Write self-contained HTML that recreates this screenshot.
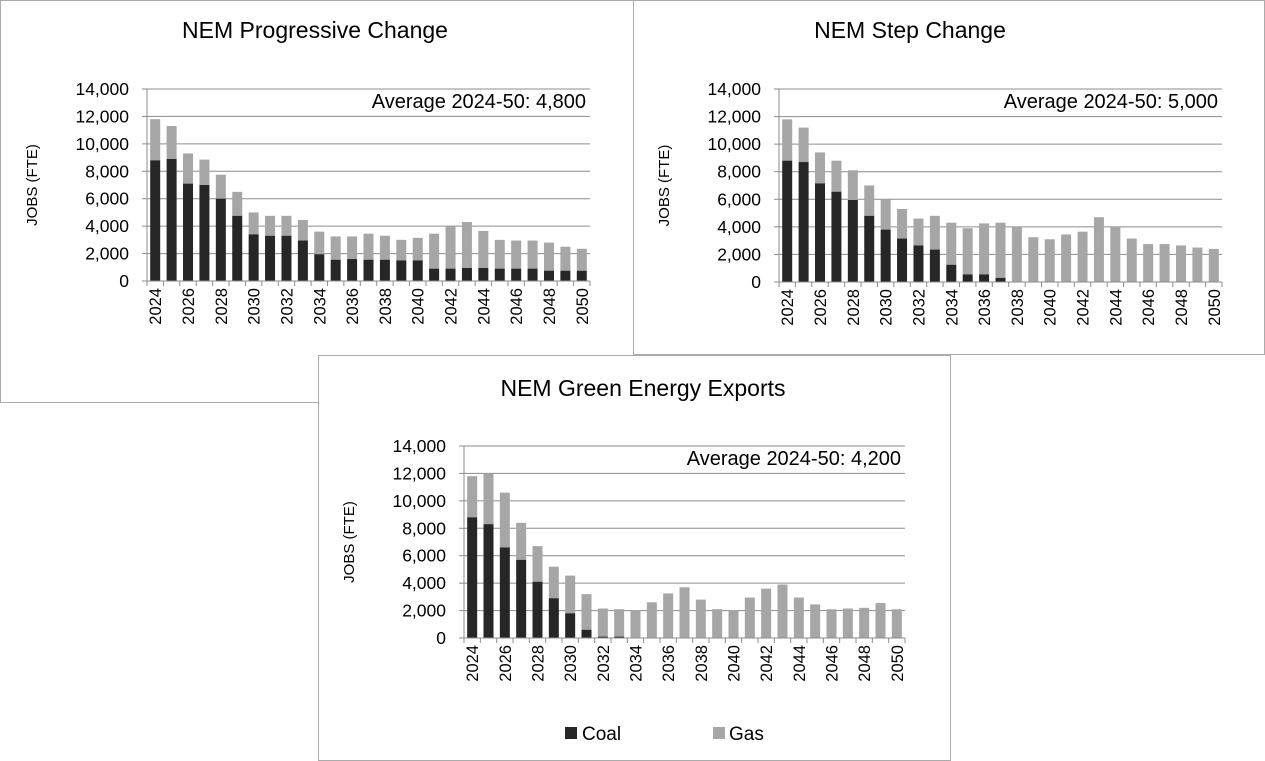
<!DOCTYPE html>
<html><head><meta charset="utf-8"><style>
body{margin:0;background:#fff;}
svg{display:block;font-family:"Liberation Sans",sans-serif;}
</style></head><body>
<svg id="chart" width="1265" height="761" viewBox="0 0 1265 761" xmlns="http://www.w3.org/2000/svg">
<rect x="0.5" y="0.5" width="633" height="402" fill="#fff" stroke="#aaa"/>
<rect x="633.5" y="0.5" width="631" height="354" fill="#fff" stroke="#aaa"/>
<rect x="318.5" y="355.5" width="632" height="405" fill="#fff" stroke="#aaa"/>
<g id="g1"></g><g id="g2"></g><g id="g3"></g>
<g>
<rect x="565" y="727" width="12" height="12" fill="#262626"/>
<text x="582" y="740" font-size="19" fill="#000">Coal</text>
<rect x="713" y="727" width="12" height="12" fill="#a6a6a6"/>
<text x="729" y="740" font-size="19" fill="#000">Gas</text>
</g>
</svg>
<script>
const years = [2024,2025,2026,2027,2028,2029,2030,2031,2032,2033,2034,2035,2036,2037,2038,2039,2040,2041,2042,2043,2044,2045,2046,2047,2048,2049,2050];
const yTicks = [0,2000,4000,6000,8000,10000,12000,14000];
const yTickLabels = ["0","2,000","4,000","6,000","8,000","10,000","12,000","14,000"];
const pcTotal = [11800,11300,9300,8850,7750,6500,5000,4750,4750,4450,3600,3250,3250,3450,3300,3000,3150,3450,4000,4300,3650,3000,2950,2950,2800,2500,2350];
const pcCoal = [8800,8900,7100,7000,6000,4750,3400,3300,3300,2950,1950,1550,1600,1550,1550,1500,1500,900,900,950,950,900,900,900,750,750,750];
const scTotal = [11800,11200,9400,8800,8100,7000,6000,5300,4600,4800,4300,3900,4250,4300,4000,3250,3100,3450,3650,4700,4000,3150,2750,2750,2650,2500,2400];
const scCoal = [8800,8700,7150,6550,5950,4800,3800,3150,2650,2350,1250,550,550,300,0,0,0,0,0,0,0,0,0,0,0,0,0];
const geTotal = [11800,12000,10600,8400,6700,5200,4550,3200,2150,2100,2000,2600,3250,3700,2800,2100,2000,2950,3600,3900,2950,2450,2100,2150,2200,2550,2100];
const geCoal = [8800,8300,6600,5700,4100,2900,1800,600,100,100,0,0,0,0,0,0,0,0,0,0,0,0,0,0,0,0,0];
const titles = ["NEM Progressive Change","NEM Step Change","NEM Green Energy Exports"];
const averages = ["Average 2024-50: 4,800","Average 2024-50: 5,000","Average 2024-50: 4,200"];
const NS="http://www.w3.org/2000/svg";
function mk(tag,attrs,parent,text){const e=document.createElementNS(NS,tag);for(const k in attrs)e.setAttribute(k,attrs[k]);if(text!==undefined)e.textContent=text;parent.appendChild(e);return e;}
function draw(gid,L,R,T,B,total,coal,title,avg,tx,ty,prefix){
  const g=document.getElementById(gid);
  const y=v=>B-(v/14000)*(B-T);
  const step=(R-L)/years.length;
  const x=i=>L+step*(i+0.5);
  const t=mk('text',{x:tx,y:ty,'text-anchor':'middle','font-size':23,fill:'#000'},g,title);
  
  
  yTicks.forEach((v,i)=>{
    if(i>0){const gl=mk('line',{x1:L,x2:R,y1:y(v),y2:y(v),stroke:'#8c8c8c','stroke-width':1},g);
      
      }
    const tk=mk('line',{x1:L-5,x2:L,y1:y(v),y2:y(v),stroke:'#8c8c8c'},g);
    
    
    const lb=mk('text',{x:L-18,y:y(v)+6,'text-anchor':'end','font-size':17.5,fill:'#000'},g,yTickLabels[i]);
    
    
  });
  const at=mk('text',{transform:`translate(${L-110},${(T+B)/2}) rotate(-90)`,'text-anchor':'middle','font-size':15,fill:'#000'},g,'JOBS (FTE)');
  
  
  const bw=10;
  years.forEach((yr,i)=>{
    const gas=mk('rect',{x:x(i)-bw/2,y:y(total[i]),width:bw,height:y(coal[i])-y(total[i]),fill:'#a6a6a6'},g);
    
    
    const c=mk('rect',{x:x(i)-bw/2,y:y(coal[i]),width:bw,height:B-y(coal[i]),fill:'#262626'},g);
    
    
  });
  const ax=mk('line',{x1:L,x2:R,y1:B,y2:B,stroke:'#8c8c8c'},g);
  
  
  const ay=mk('line',{x1:L,x2:L,y1:T,y2:B,stroke:'#8c8c8c'},g);
  
  
  for(let i=0;i<=years.length;i++){
    const xt=mk('line',{x1:L+step*i,x2:L+step*i,y1:B,y2:B+5,stroke:'#8c8c8c'},g);
    
    
  }
  years.forEach((yr,i)=>{
    if(i%2)return;
    const xl=mk('text',{transform:`translate(${x(i)+6},${B+7}) rotate(-90)`,'text-anchor':'end','font-size':16.5,fill:'#000'},g,String(yr));
    
    
  });
  const av=mk('text',{x:R-4,y:T+19,'text-anchor':'end','font-size':20,fill:'#000'},g,avg);
  
  
}
draw('g1',147,590,89,281,pcTotal,pcCoal,titles[0],averages[0],315,38,'progressive');
draw('g2',779,1222,89,282,scTotal,scCoal,titles[1],averages[1],910,38,'step');
draw('g3',464,905,446,638,geTotal,geCoal,titles[2],averages[2],643,396,'green');
</script>
</body></html>
